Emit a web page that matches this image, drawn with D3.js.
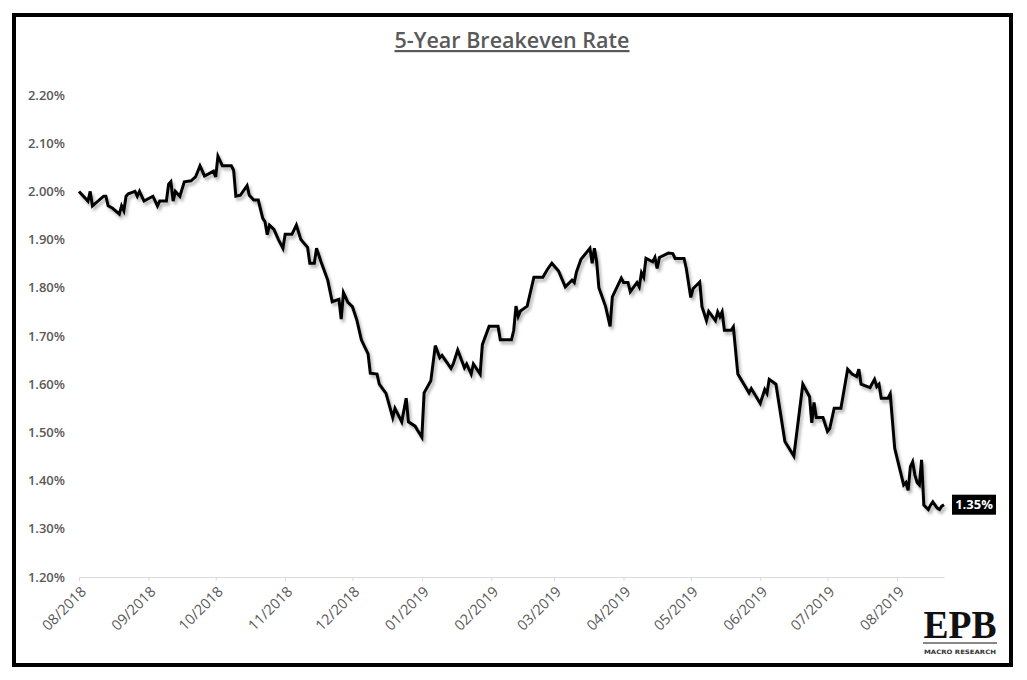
<!DOCTYPE html>
<html>
<head>
<meta charset="utf-8">
<script src="https://cdn.jsdelivr.net/npm/d3@7"></script>
<style>
  body { margin: 0; background: #fff; }
  svg { display: block; }
</style>
</head>
<body>
<div id="chart"></div>
<script>
"use strict";

// 5-Year breakeven rate, vertices (date, %)
var dates = [
  "2018-08-01","2018-08-05","2018-08-06","2018-08-07","2018-08-12","2018-08-13","2018-08-14","2018-08-16",
  "2018-08-19","2018-08-20","2018-08-21","2018-08-22","2018-08-23","2018-08-26","2018-08-27","2018-08-28",
  "2018-08-30","2018-09-03","2018-09-05","2018-09-06","2018-09-09","2018-09-10","2018-09-11","2018-09-12",
  "2018-09-13","2018-09-15","2018-09-17","2018-09-20","2018-09-22","2018-09-24","2018-09-26","2018-09-28",
  "2018-09-30","2018-10-01","2018-10-02","2018-10-04","2018-10-08","2018-10-09","2018-10-10","2018-10-12",
  "2018-10-15","2018-10-16","2018-10-18","2018-10-20","2018-10-22","2018-10-23","2018-10-24","2018-10-25",
  "2018-10-27","2018-10-29","2018-10-31","2018-11-01","2018-11-04","2018-11-06","2018-11-08","2018-11-11",
  "2018-11-12","2018-11-14","2018-11-15","2018-11-17","2018-11-20","2018-11-22","2018-11-25","2018-11-26",
  "2018-11-27","2018-11-29","2018-12-01","2018-12-03","2018-12-05","2018-12-08","2018-12-09","2018-12-12",
  "2018-12-13","2018-12-16","2018-12-19","2018-12-20","2018-12-23","2018-12-25","2018-12-26","2018-12-29",
  "2018-12-30","2019-01-01","2019-01-02","2019-01-05","2019-01-07","2019-01-09","2019-01-10","2019-01-14",
  "2019-01-15","2019-01-17","2019-01-20","2019-01-21","2019-01-23","2019-01-24","2019-01-27","2019-01-28",
  "2019-01-31","2019-02-04","2019-02-05","2019-02-10","2019-02-11","2019-02-12","2019-02-13","2019-02-14",
  "2019-02-17","2019-02-20","2019-02-24","2019-02-26","2019-02-28","2019-03-03","2019-03-06","2019-03-09",
  "2019-03-10","2019-03-11","2019-03-13","2019-03-17","2019-03-18","2019-03-19","2019-03-20","2019-03-21",
  "2019-03-24","2019-03-26","2019-03-27","2019-03-31","2019-04-01","2019-04-03","2019-04-04","2019-04-07",
  "2019-04-08","2019-04-09","2019-04-10","2019-04-11","2019-04-14","2019-04-15","2019-04-16","2019-04-17",
  "2019-04-21","2019-04-23","2019-04-24","2019-04-28","2019-04-29","2019-05-01","2019-05-02","2019-05-05",
  "2019-05-06","2019-05-08","2019-05-09","2019-05-12","2019-05-13","2019-05-14","2019-05-15","2019-05-16",
  "2019-05-19","2019-05-20","2019-05-22","2019-05-27","2019-05-28","2019-06-01","2019-06-03","2019-06-04",
  "2019-06-05","2019-06-08","2019-06-12","2019-06-16","2019-06-20","2019-06-23","2019-06-24","2019-06-25",
  "2019-06-26","2019-06-29","2019-07-01","2019-07-02","2019-07-04","2019-07-07","2019-07-10","2019-07-12",
  "2019-07-14","2019-07-15","2019-07-16","2019-07-20","2019-07-22","2019-07-23","2019-07-24","2019-07-25",
  "2019-07-28","2019-07-29","2019-07-31","2019-08-02","2019-08-04","2019-08-05","2019-08-06","2019-08-07",
  "2019-08-08","2019-08-09","2019-08-10","2019-08-11","2019-08-12","2019-08-13","2019-08-15","2019-08-16",
  "2019-08-17","2019-08-19","2019-08-20","2019-08-21","2019-08-22"
];
var rates = [
  2.00, 1.98, 2.00, 1.97, 1.99, 1.99, 1.97, 1.965,
  1.953, 1.97, 1.96, 1.99, 1.995, 2.00, 1.99, 2.00,
  1.98, 1.99, 1.97, 1.98, 1.98, 2.015, 2.02, 1.98,
  2.00, 1.99, 2.02, 2.022, 2.03, 2.053, 2.032, 2.037,
  2.042, 2.03, 2.073, 2.053, 2.053, 2.044, 1.99, 1.992,
  2.012, 1.992, 1.982, 1.982, 1.944, 1.937, 1.91, 1.93,
  1.921, 1.90, 1.882, 1.911, 1.911, 1.93, 1.90, 1.884,
  1.851, 1.851, 1.882, 1.854, 1.816, 1.771, 1.776, 1.735,
  1.79, 1.77, 1.761, 1.733, 1.692, 1.663, 1.623, 1.621,
  1.60, 1.581, 1.531, 1.55, 1.522, 1.571, 1.522, 1.513,
  1.505, 1.49, 1.582, 1.607, 1.68, 1.655, 1.66, 1.633,
  1.642, 1.671, 1.634, 1.642, 1.621, 1.642, 1.621, 1.682,
  1.72, 1.72, 1.692, 1.692, 1.712, 1.762, 1.741, 1.752,
  1.762, 1.822, 1.822, 1.838, 1.851, 1.835, 1.802, 1.816,
  1.811, 1.833, 1.859, 1.882, 1.851, 1.882, 1.854, 1.80,
  1.761, 1.72, 1.781, 1.82, 1.811, 1.811, 1.792, 1.811,
  1.802, 1.831, 1.822, 1.861, 1.854, 1.863, 1.84, 1.863,
  1.872, 1.871, 1.861, 1.861, 1.84, 1.78, 1.798, 1.812,
  1.761, 1.732, 1.751, 1.732, 1.75, 1.74, 1.75, 1.712,
  1.712, 1.719, 1.621, 1.582, 1.591, 1.56, 1.589, 1.581,
  1.61, 1.60, 1.481, 1.451, 1.60, 1.574, 1.52, 1.562,
  1.531, 1.531, 1.502, 1.508, 1.55, 1.55, 1.631, 1.621,
  1.616, 1.631, 1.60, 1.593, 1.61, 1.595, 1.60, 1.571,
  1.571, 1.58, 1.467, 1.429, 1.391, 1.396, 1.38, 1.429,
  1.439, 1.412, 1.396, 1.391, 1.443, 1.349, 1.34, 1.349,
  1.356, 1.343, 1.34, 1.347, 1.35
];
var yTicks = [1.20, 1.30, 1.40, 1.50, 1.60, 1.70, 1.80, 1.90, 2.00, 2.10, 2.20];
var xDomain = ["2018-08-01", "2019-08-22"];
var title = "5-Year Breakeven Rate";
var lastLabel = "1.35%";

var W = 1027, H = 680;
var parse = d3.timeParse("%Y-%m-%d");
var data = dates.map(function (d, i) { return { date: parse(d), v: rates[i] }; });

var svg = d3.select("#chart").append("svg")
    .attr("width", W).attr("height", H);

// shadow under the line
var defs = svg.append("defs");
var f = defs.append("filter").attr("id", "shadow")
    .attr("x", "-5%").attr("y", "-5%").attr("width", "110%").attr("height", "115%");
f.append("feDropShadow")
    .attr("dx", 2).attr("dy", 3).attr("stdDeviation", 1.8)
    .attr("flood-color", "#000").attr("flood-opacity", 0.3);

// frame
svg.append("rect")
    .attr("x", 14).attr("y", 15).attr("width", 997).attr("height", 650)
    .attr("fill", "#fff").attr("stroke", "#000").attr("stroke-width", 4);

// title
svg.append("text")
    .attr("x", 512).attr("y", 48)
    .attr("text-anchor", "middle")
    .attr("textLength", 235).attr("lengthAdjust", "spacingAndGlyphs")
    .style("font-family", "'Open Sans', sans-serif")
    .style("font-size", "22px")
    .style("font-weight", 600)
    .style("fill", "#595959")
    .style("text-decoration", "underline")
    .text(title);

var x = d3.scaleTime()
    .domain(xDomain.map(parse))
    .range([79, 944]);
var y = d3.scaleLinear()
    .domain([1.2, 2.2])
    .range([577, 95]);

// y labels (no axis line)
svg.append("g").selectAll("text")
    .data(yTicks)
    .enter().append("text")
    .attr("x", 65)
    .attr("y", function (d) { return y(d); })
    .attr("dy", "0.35em")
    .attr("text-anchor", "end")
    .style("font-family", "'Open Sans', sans-serif")
    .style("font-size", "13px")
    .style("font-weight", 600)
    .style("fill", "#595959")
    .text(function (d) { return d.toFixed(2) + "%"; });

// x axis
var xAxis = svg.append("g")
    .attr("transform", "translate(0,577)")
    .call(d3.axisBottom(x)
        .ticks(d3.timeMonth.every(1))
        .tickFormat(d3.timeFormat("%m/%Y"))
        .tickSizeInner(4)
        .tickSizeOuter(0));
xAxis.select(".domain").attr("stroke", "#d9d9d9").attr("stroke-width", 1.2);
xAxis.selectAll(".tick line").attr("stroke", "#d9d9d9");
xAxis.selectAll(".tick text")
    .attr("text-anchor", "end")
    .attr("transform", "translate(4,12) rotate(-45)")
    .attr("dy", "0.35em")
    .attr("y", 0).attr("x", 0)
    .style("font-family", "'Open Sans', sans-serif")
    .style("font-size", "14.5px")
    .style("font-weight", 400)
    .style("fill", "#595959");

// the line
var line = d3.line()
    .x(function (d) { return x(d.date); })
    .y(function (d) { return y(d.v); });

svg.append("path")
    .datum(data)
    .attr("d", line)
    .attr("fill", "none")
    .attr("stroke", "#000")
    .attr("stroke-width", 3)
    .attr("stroke-linejoin", "miter")
    .attr("filter", "url(#shadow)");

// last value tag
var last = data[data.length - 1];
var tag = svg.append("g")
    .attr("transform", "translate(" + (x(last.date) + 8) + "," + y(last.v) + ")");
tag.append("rect")
    .attr("x", 0).attr("y", -10).attr("width", 44).attr("height", 20)
    .attr("fill", "#000");
tag.append("text")
    .attr("x", 22).attr("y", 0).attr("dy", "0.36em")
    .attr("text-anchor", "middle")
    .style("font-family", "'Open Sans', sans-serif")
    .style("font-size", "13px")
    .style("font-weight", 700)
    .style("fill", "#fff")
    .text(lastLabel);

// EPB logo
var logo = svg.append("g");
logo.append("text")
    .attr("x", 960).attr("y", 638)
    .attr("text-anchor", "middle")
    .attr("textLength", 73).attr("lengthAdjust", "spacingAndGlyphs")
    .style("font-family", "'Liberation Serif', 'DejaVu Serif', serif")
    .style("font-size", "40px")
    .style("font-weight", 700)
    .style("fill", "#111")
    .text("EPB");
logo.append("line")
    .attr("x1", 923).attr("x2", 997).attr("y1", 643).attr("y2", 643)
    .attr("stroke", "#111").attr("stroke-width", 1.2);
logo.append("text")
    .attr("x", 960).attr("y", 654)
    .attr("text-anchor", "middle")
    .attr("textLength", 72).attr("lengthAdjust", "spacingAndGlyphs")
    .style("font-family", "'DejaVu Sans', sans-serif")
    .style("font-size", "6px")
    .style("font-weight", 700)
    .style("fill", "#333")
    .text("MACRO RESEARCH");
</script>
</body>
</html>
